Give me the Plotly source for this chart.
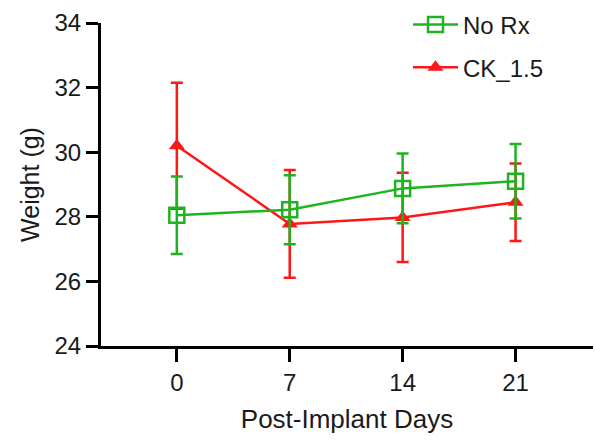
import plotly.graph_objects as go

days = [0, 7, 14, 21]
tick_labels = ["0", "7", "14", "21"]

no_rx_mean = [28.05, 28.22, 28.88, 29.10]
no_rx_err = [1.20, 1.07, 1.08, 1.15]

ck_mean = [30.20, 27.78, 27.98, 28.45]
ck_err = [1.95, 1.67, 1.38, 1.20]

green = "#1fb41f"
red = "#ff1616"

fig = go.Figure()

fig.add_trace(go.Scatter(
    x=days, y=ck_mean, name="CK_1.5", mode="lines+markers",
    line=dict(color=red, width=2.5),
    marker=dict(symbol="triangle-up", size=14, color=red),
    error_y=dict(type="data", array=ck_err, color=red, thickness=2.5, width=6),
    legend="legend2",
))

fig.add_trace(go.Scatter(
    x=days, y=no_rx_mean, name="No Rx", mode="lines+markers",
    line=dict(color=green, width=2.5),
    marker=dict(symbol="square-open", size=15, color=green, line=dict(width=2.5, color=green)),
    error_y=dict(type="data", array=no_rx_err, color=green, thickness=2.5, width=6),
    legend="legend",
))

font_family = "Liberation Sans, Arial, sans-serif"
legend_style = dict(xanchor="left", yanchor="middle", bgcolor="rgba(0,0,0,0)",
                    font=dict(size=24), itemwidth=45)

fig.update_layout(
    width=595, height=443,
    margin=dict(l=101, r=2, t=20, b=97),
    paper_bgcolor="white", plot_bgcolor="white",
    font=dict(family=font_family, size=24, color="#1a1a1a"),
    showlegend=True,
    legend=dict(x=0.624, y=0.994, **legend_style),
    legend2=dict(x=0.624, y=0.862, **legend_style),
    xaxis=dict(
        range=[-4.7, 25.8], tickmode="array", tickvals=days, ticktext=tick_labels,
        showgrid=False, zeroline=False, showline=True, linecolor="black", linewidth=3,
        ticks="outside", ticklen=13, tickwidth=3, tickcolor="black",
        title=dict(text="Post-Implant Days", standoff=16, font=dict(size=26)),
    ),
    yaxis=dict(
        range=[24, 34], tickvals=[24, 26, 28, 30, 32, 34],
        showgrid=False, zeroline=False, showline=True, linecolor="black", linewidth=3,
        ticks="outside", ticklen=12, tickwidth=3, tickcolor="black",
        title=dict(text="Weight (g)", standoff=8, font=dict(size=25)),
    ),
)

fig.write_html("out.html")
